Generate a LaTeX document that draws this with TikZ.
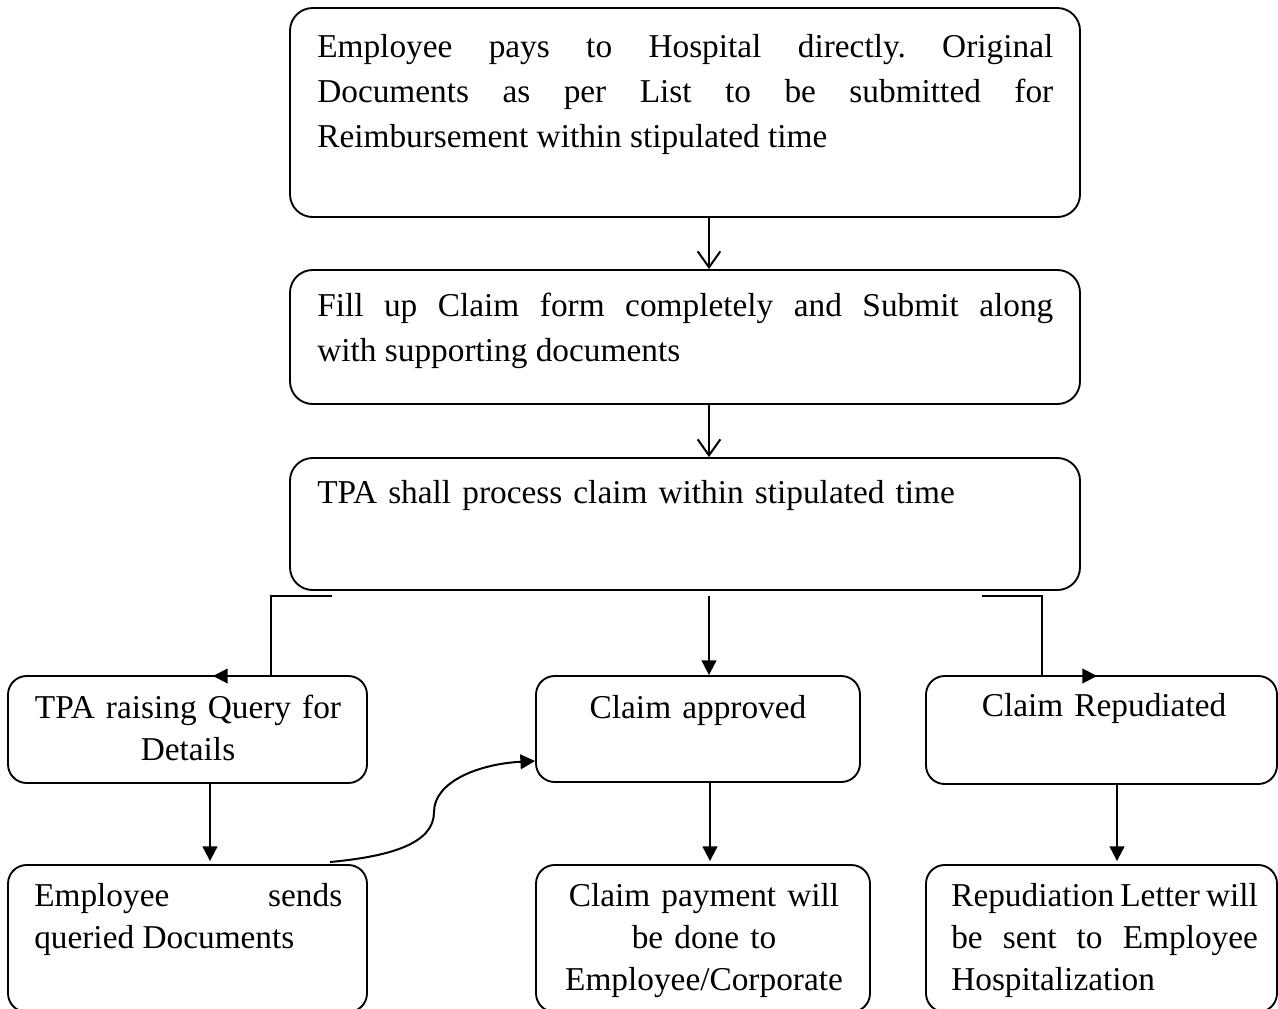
\documentclass[tikz,border=0pt]{standalone}
\usepackage{fontspec}
\setmainfont{Liberation Serif}
\usetikzlibrary{arrows.meta}
\frenchspacing
\begin{document}
\begin{tikzpicture}[x=0.75pt,y=-0.75pt,
  box/.style={draw, line width=1.4pt, rounded corners=17pt, inner sep=0pt},
  sbox/.style={draw, line width=1.4pt, rounded corners=14pt, inner sep=0pt},
  txt/.style={inner sep=0pt, font=\fontsize{25}{33.5}\selectfont},
  btxt/.style={inner sep=0pt, font=\fontsize{25}{31.5}\selectfont},
  conn/.style={line width=1.5pt},
  farrow/.style={conn, -{Triangle[length=11pt,width=11pt]}},
  varrow/.style={conn, -{Straight Barb[length=12pt,width=17pt,line width=1.5pt]}}
]
\useasboundingbox (0,0) rectangle (1278,1008);

% boxes
\node[box, minimum width=592.5pt, minimum height=156.75pt] (b1) at (685,112.5) {};
\node[box, minimum width=592.5pt, minimum height=100.5pt] (b2) at (685,337) {};
\node[box, minimum width=592.5pt, minimum height=99pt] (b3) at (685,524) {};
\node[sbox, minimum width=269.25pt, minimum height=80.25pt] (b4) at (187.5,729.5) {};
\node[sbox, minimum width=243pt, minimum height=79.5pt] (b5) at (698,729) {};
\node[sbox, minimum width=263.25pt, minimum height=81pt] (b6) at (1101.5,730) {};
\node[sbox, minimum width=269.25pt, minimum height=110.25pt] (b7) at (187.5,938.5) {};
\node[sbox, minimum width=250.5pt, minimum height=110.25pt] (b8) at (703,938.5) {};
\node[sbox, minimum width=263.25pt, minimum height=110.25pt] (b9) at (1101.5,938.5) {};

% texts
\node[txt, anchor=north west, text width=552pt, align=justify] (t1) at (317,26.2)
  {\strut Employee pays to Hospital directly. Original\linebreak Documents as per List to be submitted for\linebreak Reimbursement within stipulated time};
\node[txt, anchor=north west, text width=552pt, align=justify] (t2) at (317,285.2)
  {\strut Fill up Claim form completely and Submit along\linebreak with supporting documents};
\node[txt, anchor=north west, text width=552pt, align=left] (t3) at (317,472.2)
  {\strut TPA shall process claim within stipulated time};
\node[btxt, anchor=north, text width=255pt, align=center] (t4) at (188,689.2)
  {\strut TPA raising Query for\\ Details};
\node[btxt, anchor=north, text width=235pt, align=center] (t5) at (698,689.2)
  {\strut Claim approved};
\node[btxt, anchor=north, text width=255pt, align=center] (t6) at (1104,687.2)
  {\strut Claim Repudiated};
\node[btxt, anchor=north west, text width=231pt, align=justify] (t7) at (34,877.2)
  {\strut Employee sends\linebreak queried Documents};
\node[btxt, anchor=north, text width=245pt, align=center] (t8) at (704,877.2)
  {\strut Claim payment will\\ be done to\\ Employee/Corporate};
\node[btxt, anchor=north west, text width=230pt, align=justify] (t9) at (951,877.2)
  {\strut Repudiation Letter will\linebreak be sent to Employee\linebreak Hospitalization};

% connector helper coordinates
\coordinate (s3) at (709,596);
\coordinate (l1) at (332,596);
\coordinate (l2) at (271,596);
\coordinate (l3) at (271,676);
\coordinate (l4) at (213,676);
\coordinate (r1) at (982,596);
\coordinate (r2) at (1042,596);
\coordinate (r3) at (1042,676);
\coordinate (r4) at (1097,676);
\coordinate (cs) at (330,862);
\coordinate (x4) at (210,0);
\coordinate (x5) at (710,0);
\coordinate (x6) at (1117,0);
\coordinate (ce) at (0,761);

% connectors
\draw[varrow] (b1.south -| s3) -- (b2.north -| s3);
\draw[varrow] (b2.south -| s3) -- (b3.north -| s3);
\draw[farrow] (s3) -- (b5.north -| s3);
\draw[farrow] (l1) -- (l2) -- (l3) -- (l4);
\draw[farrow] (r1) -- (r2) -- (r3) -- (r4);
\draw[farrow] (b4.south -| x4) -- ([yshift=2.25pt]b7.north -| x4);
\draw[farrow] (b5.south -| x5) -- ([yshift=2.25pt]b8.north -| x5);
\draw[farrow] (b6.south -| x6) -- ([yshift=2.25pt]b9.north -| x6);
\draw[farrow] (cs) .. controls (395,856) and (434,842) .. (434,812)
  .. controls (434,782) and (478,764) .. (b5.west |- ce);
\end{tikzpicture}
\end{document}
